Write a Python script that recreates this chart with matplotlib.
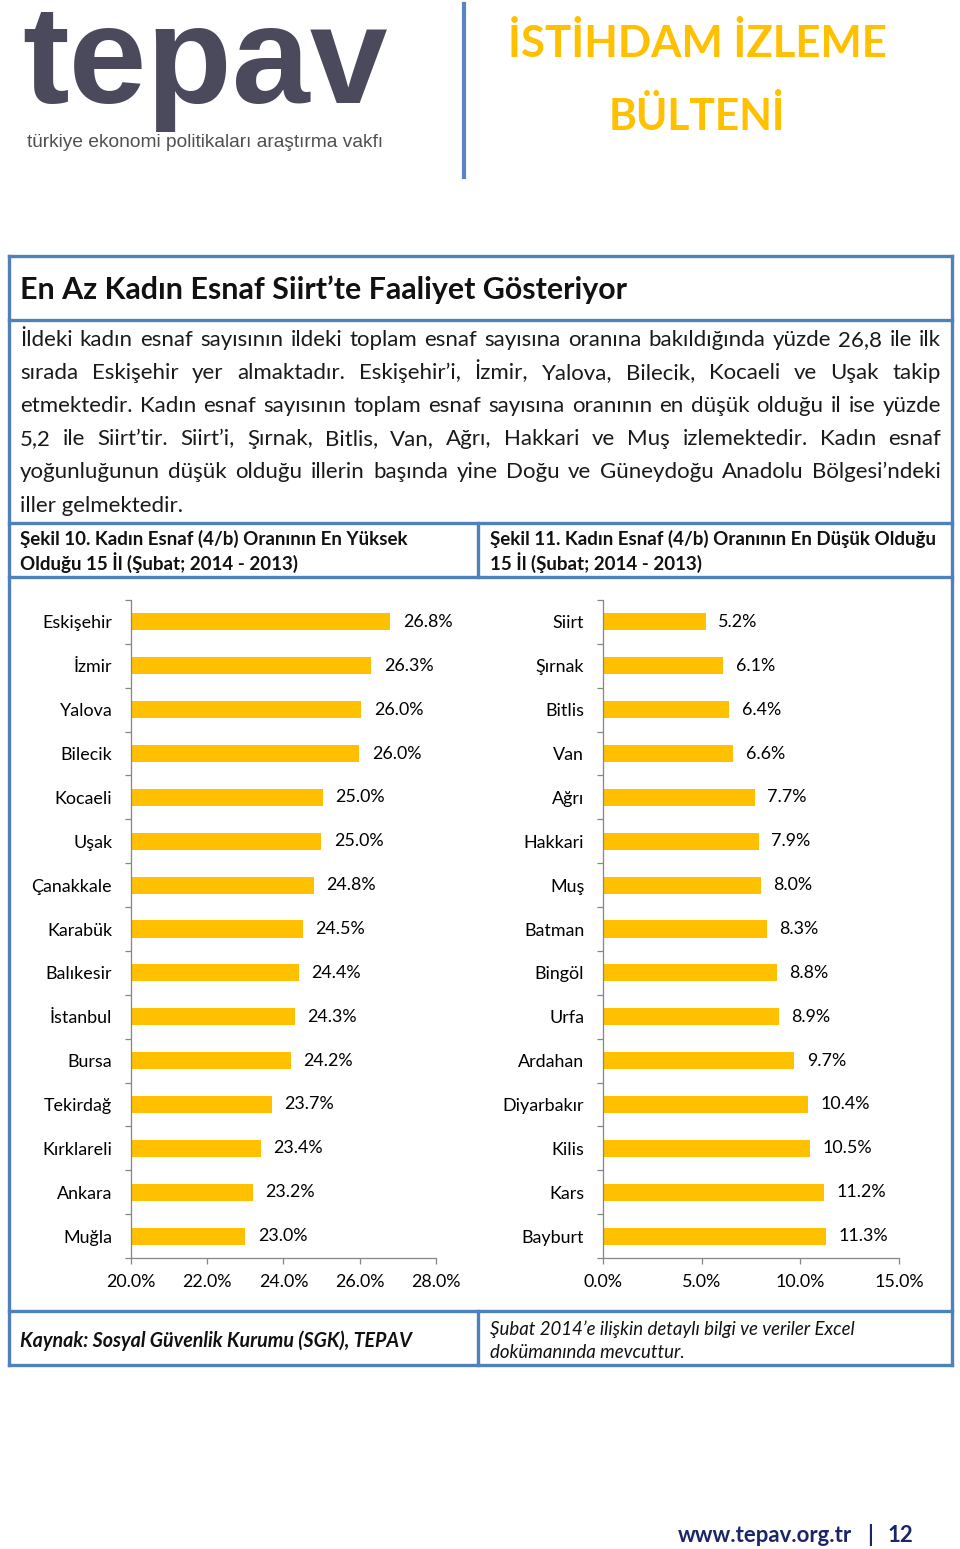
import matplotlib
matplotlib.use('Agg')
import matplotlib.pyplot as plt
import numpy as np

# ---------------- data ----------------
left_cats = ["Eskişehir", "İzmir", "Yalova", "Bilecik", "Kocaeli", "Uşak", "Çanakkale",
             "Karabük", "Balıkesir", "İstanbul", "Bursa", "Tekirdağ", "Kırklareli",
             "Ankara", "Muğla"]
left_vals = [26.8, 26.3, 26.04, 25.99, 25.04, 24.99, 24.8, 24.5, 24.4, 24.3, 24.2,
             23.7, 23.4, 23.2, 23.0]
left_ticks = [20.0, 22.0, 24.0, 26.0, 28.0]

right_cats = ["Siirt", "Şırnak", "Bitlis", "Van", "Ağrı", "Hakkari", "Muş", "Batman",
              "Bingöl", "Urfa", "Ardahan", "Diyarbakır", "Kilis", "Kars", "Bayburt"]
right_vals = [5.2, 6.1, 6.4, 6.6, 7.7, 7.9, 8.0, 8.3, 8.8, 8.9, 9.7, 10.4, 10.5, 11.2, 11.3]
right_ticks = [0.0, 5.0, 10.0, 15.0]

headline = "En Az Kadın Esnaf Siirt’te Faaliyet Gösteriyor"
body_lines = [
    "İldeki kadın esnaf sayısının ildeki toplam esnaf sayısına oranına bakıldığında yüzde 26,8 ile ilk",
    "sırada Eskişehir yer almaktadır. Eskişehir’i, İzmir, Yalova, Bilecik, Kocaeli ve Uşak takip",
    "etmektedir. Kadın esnaf sayısının toplam esnaf sayısına oranının en düşük olduğu il ise yüzde",
    "5,2 ile Siirt’tir. Siirt’i, Şırnak, Bitlis, Van, Ağrı, Hakkari ve Muş izlemektedir. Kadın esnaf",
    "yoğunluğunun düşük olduğu illerin başında yine Doğu ve Güneydoğu Anadolu Bölgesi’ndeki",
    "iller gelmektedir.",
]
cap_left = ["Şekil 10. Kadın Esnaf (4/b) Oranının En Yüksek", "Olduğu 15 İl (Şubat; 2014 - 2013)"]
cap_right = ["Şekil 11. Kadın Esnaf (4/b) Oranının En Düşük Olduğu", "15 İl (Şubat; 2014 - 2013)"]
source_text = "Kaynak: Sosyal Güvenlik Kurumu (SGK), TEPAV"
note_lines = ["Şubat 2014’e ilişkin detaylı bilgi ve veriler Excel", "dokümanında mevcuttur."]

# ---------------- style ----------------
W, H = 960, 1549
BLUE = '#4F81BD'
BAR = '#FFC000'
AXC = '#868686'
FONT = 'Lato'
plt.rcParams['font.family'] = [FONT, 'DejaVu Sans']

fig = plt.figure(figsize=(W / 100, H / 100), dpi=100)
bg = fig.add_axes([0, 0, 1, 1])
bg.set_xlim(0, W)
bg.set_ylim(H, 0)
bg.axis('off')
renderer = fig.canvas.get_renderer()


def wpx(t):
    return t.get_window_extent(renderer).width


def put(x, y, s, target=None, **kw):
    kw.setdefault('va', 'baseline')
    t = bg.text(x, y, s, **kw)
    if target:
        t.set_fontsize(t.get_fontsize() * target / wpx(t))
    return t


def hline(y, x0, x1, lw=2.4, c=BLUE):
    bg.plot([x0, x1], [y, y], color=c, lw=lw, solid_capstyle='projecting')


def vline(x, y0, y1, lw=2.4, c=BLUE):
    bg.plot([x, x], [y0, y1], color=c, lw=lw, solid_capstyle='projecting')


# ---------------- header ----------------
put(22, 103, "tepav", target=366, fontsize=100, fontweight='bold',
    family='Liberation Sans', color='#4B4A5C')
put(27, 147, "türkiye ekonomi politikaları araştırma vakfı", target=359, fontsize=12,
    family='Liberation Sans', color='#505050')
vline(464, 4, 177, lw=3.0, c='#5B84C4')
put(697, 57, "İSTİHDAM İZLEME", target=379, fontsize=34, fontweight='bold',
    color=BAR, ha='center')
put(697, 130, "BÜLTENİ", target=177, fontsize=34, fontweight='bold', color=BAR, ha='center')

# ---------------- box ----------------
L, R = 8.5, 952
hline(256, L, R)
hline(320, L, R)
hline(523, L, R)
hline(577, L, R)
hline(1311, L, R)
hline(1365, L, R)
vline(L, 256, 1365)
vline(R, 256, 1365)
vline(478, 523, 577)
vline(478, 1311, 1365)

# headline
put(20, 299, headline, target=607, fontsize=18, fontweight='bold', color='#111111')

# body text (justified)
probe = put(20, 512, body_lines[-1], target=163, fontsize=14, color='#1a1a1a')
body_fs = probe.get_fontsize()
baselines = [346, 379, 412, 445, 478]
for line, yb in zip(body_lines[:-1], baselines):
    words = line.split(' ')
    ts = [bg.text(0, yb, w, fontsize=body_fs, va='baseline', color='#1a1a1a') for w in words]
    widths = [wpx(t) for t in ts]
    gap = (941 - 20 - sum(widths)) / (len(words) - 1)
    x = 20
    for t, w in zip(ts, widths):
        t.set_x(x)
        x += w + gap

# captions
c1 = put(20, 545, cap_left[0], target=387, fontsize=13, fontweight='bold', color='#111111')
cfs = c1.get_fontsize()
put(20, 570, cap_left[1], fontsize=cfs, fontweight='bold', color='#111111')
put(490, 545, cap_right[0], fontsize=cfs, fontweight='bold', color='#111111')
put(490, 570, cap_right[1], fontsize=cfs, fontweight='bold', color='#111111')

# footer
put(20, 1347, source_text, target=392, fontsize=13, fontweight='bold', style='italic',
    color='#111111')
n1 = put(490, 1335, note_lines[0], target=364, fontsize=13, style='italic', color='#111111')
put(490, 1358, note_lines[1], fontsize=n1.get_fontsize(), style='italic', color='#111111')

# page footer
pf = put(678, 1542, "www.tepav.org.tr", target=174, fontsize=15, fontweight='bold',
         color='#1A2668')
put(870, 1542, "|", fontsize=pf.get_fontsize(), fontweight='bold', color='#1A2668', ha='center')
put(888, 1542, "12", fontsize=pf.get_fontsize(), fontweight='bold', color='#1A2668')


# ---------------- charts ----------------
def axes_px(x0, y0, x1, y1):
    return fig.add_axes([x0 / W, 1 - y1 / H, (x1 - x0) / W, (y1 - y0) / H])


LS = 12.9


def chart(ax, cats, vals, ticks):
    y = np.arange(len(cats))
    ax.barh(y, vals, height=0.39, color=BAR, zorder=2)
    ax.set_xlim(ticks[0], ticks[-1])
    ax.set_ylim(len(cats) - 0.5, -0.5)
    ax.set_xticks(ticks)
    ax.set_xticklabels([f"{v:.1f}%" for v in ticks])
    ax.set_yticks(y)
    ax.set_yticklabels(cats)
    ax.set_yticks(np.arange(-0.5, len(cats)), minor=True)
    ax.tick_params(axis='y', which='major', length=0, pad=13.5, labelsize=LS)
    ax.tick_params(axis='y', which='minor', length=4.3, color=AXC, width=0.9, direction='out')
    ax.tick_params(axis='x', length=4, color=AXC, width=0.9, pad=7.5, labelsize=LS)
    for s in ('top', 'right'):
        ax.spines[s].set_visible(False)
    for s in ('left', 'bottom'):
        ax.spines[s].set_color(AXC)
        ax.spines[s].set_linewidth(0.9)
    ax.set_facecolor('none')
    for yi, v in zip(y, vals):
        ax.annotate(f"{v:.1f}%", (v, yi), xytext=(9, 0), textcoords='offset points',
                    va='center', ha='left', fontsize=LS, annotation_clip=False)


axL = axes_px(131, 600, 436, 1258)
chart(axL, left_cats, left_vals, left_ticks)
axR = axes_px(603, 600, 899, 1258)
chart(axR, right_cats, right_vals, right_ticks)

fig.savefig('out.png', dpi=100)
